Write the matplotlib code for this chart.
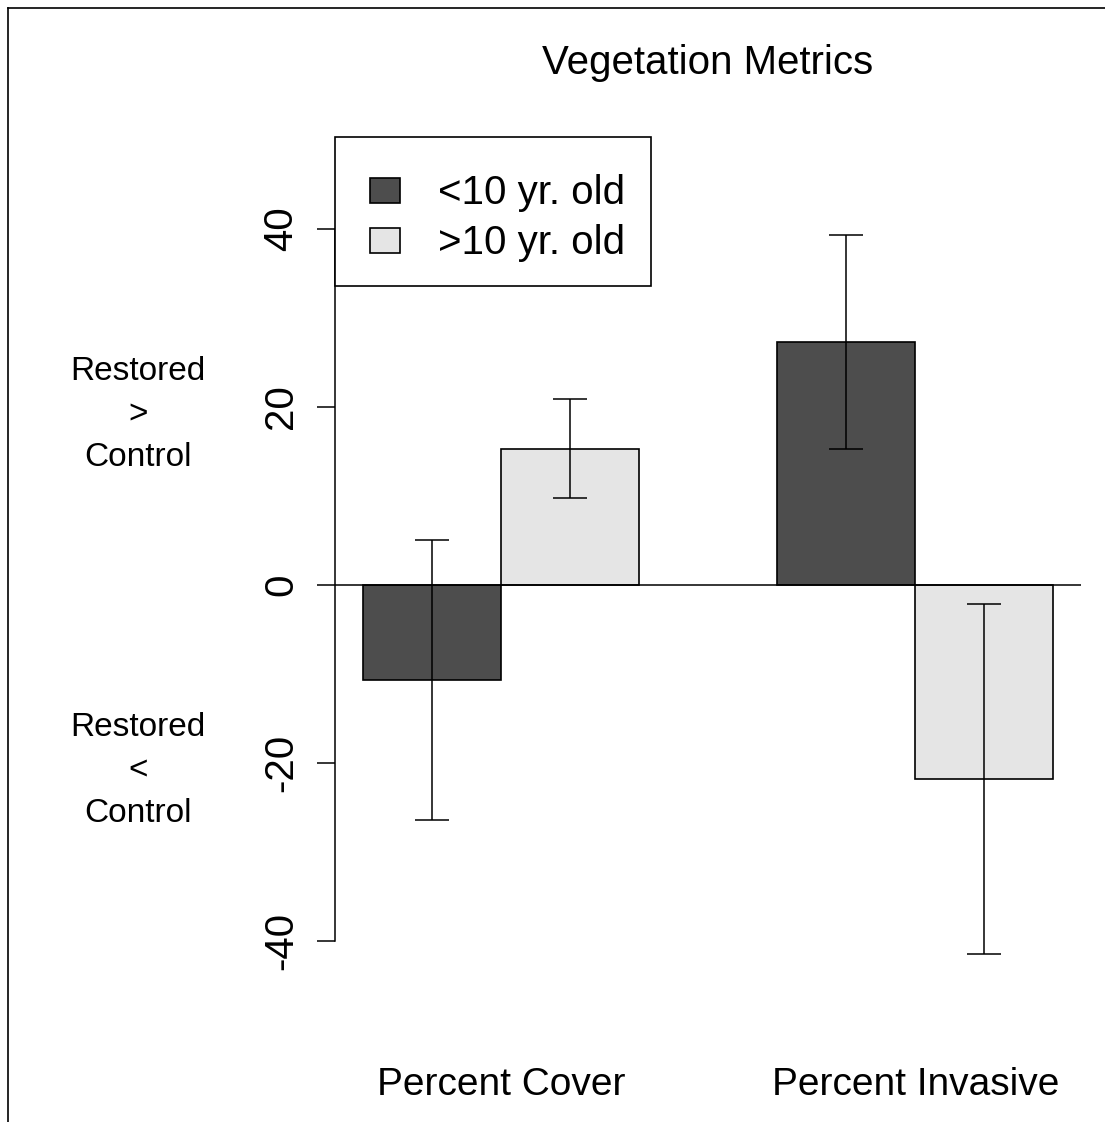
import numpy as np
import matplotlib
matplotlib.use("Agg")
import matplotlib.pyplot as plt
from matplotlib.patches import Rectangle

plt.rcParams['font.family'] = ['Liberation Sans', 'DejaVu Sans']

# mean difference (restored - control) and standard error per metric
metrics = ["Percent Cover", "Percent Invasive"]
young_mean = [-10.7, 27.3]
young_err = [15.7, 12.0]
old_mean = [15.3, -21.8]
old_err = [5.6, 19.7]
age_labels = ["<10 yr. old", ">10 yr. old"]
age_colors = ["#4d4d4d", "#e5e5e5"]

W, H = 1105, 1122
fig = plt.figure(figsize=(W / 100, H / 100), dpi=100)
ax = fig.add_axes([335 / W, (H - 1030) / H, (1081 - 335) / W, (1030 - 137) / H])

# barplot layout: groups of two unit-width bars, one unit gap between groups
group_left = np.array([1.0, 4.0])
ax.bar(group_left + 0.5, young_mean, width=1.0, color=age_colors[0], edgecolor="black", linewidth=1.2, zorder=2)
ax.bar(group_left + 1.5, old_mean, width=1.0, color=age_colors[1], edgecolor="black", linewidth=1.2, zorder=2)
ax.errorbar(group_left + 0.5, young_mean, yerr=young_err, fmt="none", ecolor="black", elinewidth=1.1, capsize=12.2, capthick=1.1, zorder=3)
ax.errorbar(group_left + 1.5, old_mean, yerr=old_err, fmt="none", ecolor="black", elinewidth=1.1, capsize=12.2, capthick=1.1, zorder=3)
ax.axhline(0, color="black", linewidth=1.1, zorder=4)

ax.set_xlim(0.8, 6.2)
ax.set_ylim(-50, 50.3)
for s in ["top", "right", "bottom"]:
    ax.spines[s].set_visible(False)
ax.spines["left"].set_bounds(-40, 40)
ax.spines["left"].set_linewidth(1.1)
ax.set_yticks([-40, -20, 0, 20, 40])
ax.set_yticklabels(["-40", "-20", "0", "20", "40"], rotation=90, va="center")
ax.tick_params(axis="y", length=13, width=1.1, pad=12, labelsize=29)
ax.set_xticks(group_left + 1.0)
ax.set_xticklabels(metrics)
ax.tick_params(axis="x", length=0, pad=26.5, labelsize=28)

# legend box in the top-left corner
ax.add_patch(Rectangle((0, 1), 316 / 746, -149 / 893, transform=ax.transAxes, facecolor="white",
                       edgecolor="black", linewidth=1.2, zorder=5, clip_on=False))
for i, (lab, col) in enumerate(zip(age_labels, age_colors)):
    yc = 1 - (53 + 50 * i) / 893
    ax.add_patch(Rectangle((35 / 746, yc - 12.5 / 893), 30 / 746, 25 / 893, transform=ax.transAxes,
                           facecolor=col, edgecolor="black", linewidth=1.2, zorder=6, clip_on=False))
    ax.text(103 / 746, yc - 3 / 893, lab, transform=ax.transAxes, fontsize=29, va="center", ha="left", zorder=6)

fig.text(708 / W, 1 - 63 / H, "Vegetation Metrics", ha="center", va="center", fontsize=29)
fig.text(138 / W, 1 - 415 / H, "Restored\n>\nControl", ha="center", va="center", fontsize=24, linespacing=1.5)
fig.text(138 / W, 1 - 771 / H, "Restored\n<\nControl", ha="center", va="center", fontsize=24, linespacing=1.5)

# outer frame, only the top and left edges are visible
fig.add_artist(plt.Line2D([8 / W, 1], [1 - 8 / H, 1 - 8 / H], transform=fig.transFigure, color="black", linewidth=1.2))
fig.add_artist(plt.Line2D([8 / W, 8 / W], [0, 1 - 8 / H], transform=fig.transFigure, color="black", linewidth=1.2))

fig.savefig("out.png", dpi=100, facecolor="white")
